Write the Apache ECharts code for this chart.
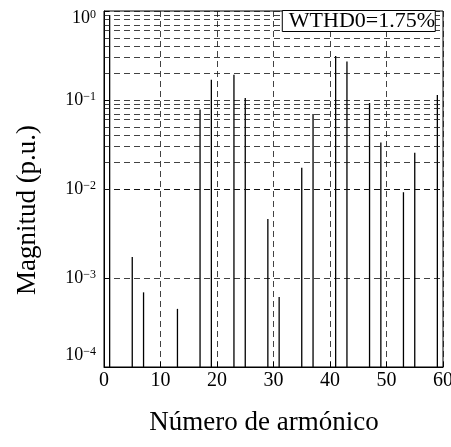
<!DOCTYPE html>
<html>
<head>
<meta charset="utf-8">
<script src="https://cdn.jsdelivr.net/npm/echarts@6/dist/echarts.min.js"></script>
<style>html,body{margin:0;padding:0;background:#fff}#c{width:451px;height:447px}</style>
</head>
<body>
<div id="c"></div>
<script>
// Harmonic spectrum data
const harmonics = [1, 5, 7, 13, 17, 19, 23, 25, 29, 31, 35, 37, 41, 43, 47, 49, 53, 55, 59];
const magnitudes = [0.9, 0.00172, 0.00069, 0.00045, 0.078, 0.169, 0.192, 0.105, 0.0046, 0.00061, 0.0173, 0.0696, 0.313, 0.270, 0.0924, 0.0332, 0.0092, 0.0256, 0.1136];
const xTicks = [0, 10, 20, 30, 40, 50, 60];
const decades = [-4, -3, -2, -1];
const minorMantissas = [2, 3, 4, 5, 6, 7, 8, 9];
const legendText = 'WTHD0=1.75%';
const xTitle = 'Número de armónico';
const yTitle = 'Magnitud (p.u.)';

const FONT = 'Liberation Serif';
const yMin = 1e-4, yMax = 1;

const minorValues = [];
decades.forEach(e => minorMantissas.forEach(m => minorValues.push(m * Math.pow(10, e))));

const chart = echarts.init(document.getElementById('c'), null, {renderer: 'canvas'});
const dash = [6, 4];

function yLabel(v) {
  const e = Math.round(Math.log10(v));
  const s = e < 0 ? '\u2212' + (-e) : String(e);
  const core = '{b|10}{s|' + s + '}';
  if (e === -4) return core + '\n{gap4| }';
  if (e === 0) return '{gap0| }\n' + core;
  return core;
}

chart.setOption({
  animation: false,
  backgroundColor: '#fff',
  grid: {left: 104, right: 8, top: 11, bottom: 80, show: true, borderColor: '#000', borderWidth: 1, backgroundColor: 'transparent', outerBoundsMode: 'none', containLabel: false},
  title: {
    text: legendText, right: 15, top: 11,
    padding: [0, 1, 0, 7], borderColor: '#000', borderWidth: 1, backgroundColor: '#fff',
    textStyle: {fontFamily: FONT, fontSize: 22, fontWeight: 'normal', color: '#000', lineHeight: 20}
  },
  xAxis: {
    type: 'value', min: xTicks[0], max: xTicks[xTicks.length - 1], interval: 10,
    axisLine: {lineStyle: {color: '#000', width: 1}},
    axisTick: {inside: true, length: 5, lineStyle: {color: '#000'}},
    axisLabel: {fontFamily: FONT, fontSize: 20, color: '#000', margin: 4},
    splitLine: {show: true, lineStyle: {type: dash, color: '#111', width: 0.8}}
  },
  yAxis: {
    type: 'log', logBase: 10, min: yMin, max: yMax, splitNumber: 4,
    axisLine: {lineStyle: {color: '#000', width: 1}},
    axisTick: {inside: true, length: 5, lineStyle: {color: '#000'}},
    splitLine: {show: true, lineStyle: {type: dash, color: '#111', width: 0.8}},
    axisLabel: {
      formatter: yLabel, margin: 8, color: '#000',
      rich: {
        b: {fontFamily: FONT, fontSize: 18, color: '#000', lineHeight: 18, verticalAlign: 'bottom'},
        s: {fontFamily: FONT, fontSize: 12, color: '#000', lineHeight: 12, padding: [0, 0, 14, 0], verticalAlign: 'top'},
        gap4: {fontSize: 1, lineHeight: 24},
        gap0: {fontSize: 1, lineHeight: 14}
      }
    }
  },
  graphic: [
    {type: 'text', style: {text: xTitle, font: '27px "Liberation Serif"', fill: '#000', textAlign: 'center', textVerticalAlign: 'middle'}, position: [264, 423]},
    {type: 'text', style: {text: yTitle, font: '27px "Liberation Serif"', fill: '#000', textAlign: 'center', textVerticalAlign: 'middle'}, position: [28, 210], rotation: Math.PI / 2}
  ],
  series: [
    {
      type: 'line', data: [], silent: true,
      markLine: {
        silent: true, symbol: ['none', 'none'], label: {show: false},
        lineStyle: {type: dash, color: '#111', width: 0.8},
        data: minorValues.map(v => ({yAxis: v}))
      }
    },
    {
      type: 'custom',
      data: harmonics.map((h, i) => [h, magnitudes[i]]),
      encode: {x: 0, y: 1},
      renderItem: function (params, api) {
        const x = api.value(0), y = api.value(1);
        const p0 = api.coord([x, yMin]);
        const p1 = api.coord([x, y]);
        return {type: 'line', shape: {x1: p0[0], y1: p0[1], x2: p1[0], y2: p1[1]}, style: {stroke: '#000', lineWidth: 1.3}};
      },
      z: 3
    }
  ]
});
</script>
</body>
</html>
